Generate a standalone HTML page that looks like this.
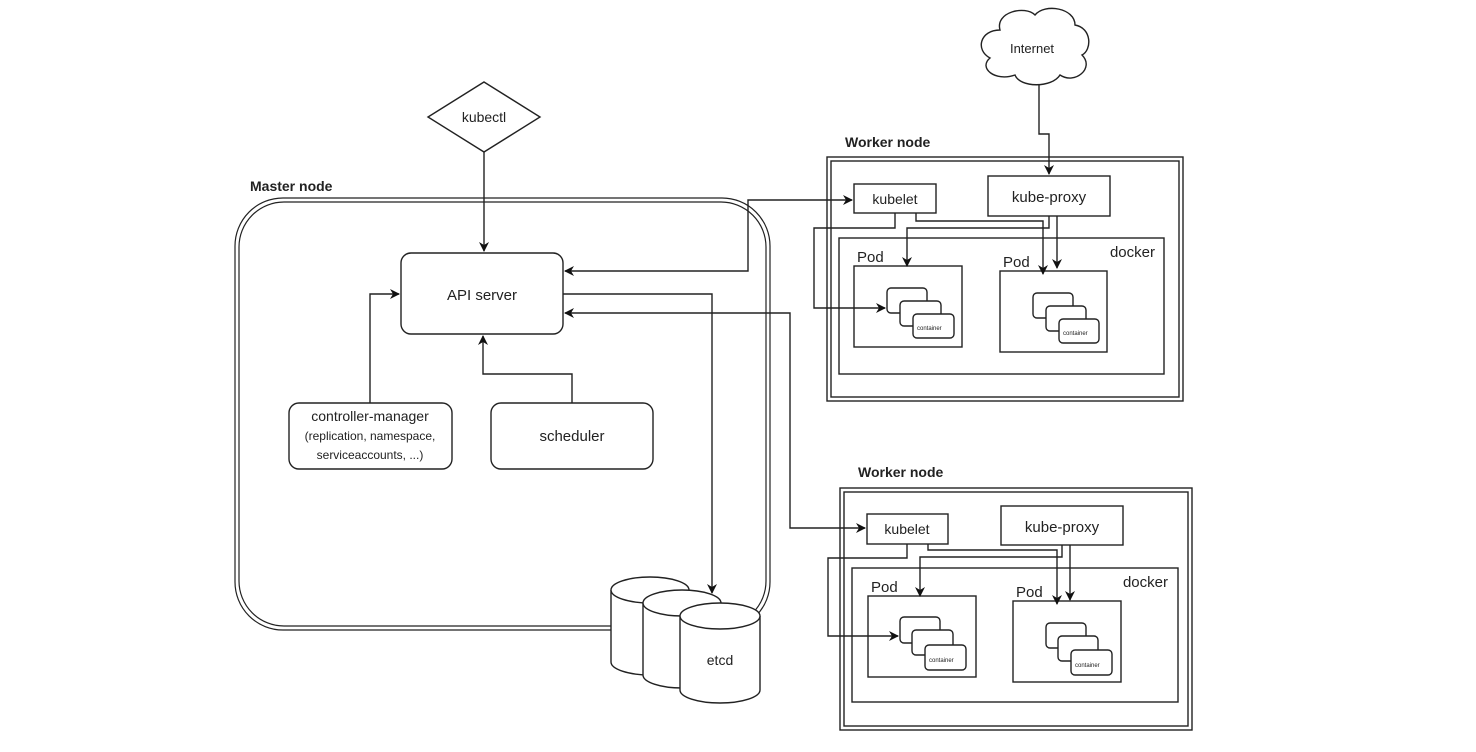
<!DOCTYPE html>
<html><head><meta charset="utf-8"><style>
html,body{margin:0;padding:0;background:#fff;}
svg{display:block;}
text{font-family:"Liberation Sans",sans-serif;fill:#222;}
</style></head><body>
<svg width="1476" height="752" viewBox="0 0 1476 752" xmlns="http://www.w3.org/2000/svg">
<defs>
<marker id="a" markerWidth="10" markerHeight="10" refX="9" refY="5" orient="auto-start-reverse" markerUnits="userSpaceOnUse">
<path d="M0,0 L10,5 L0,10 L3,5 Z" fill="#111"/></marker>
</defs>
<g fill="none" stroke="#222" stroke-width="1.4">
<!-- Master -->
<rect x="235" y="198" width="535" height="432" rx="48" stroke-width="1.2"/>
<rect x="239" y="202" width="527" height="424" rx="45" stroke-width="1.2"/>
<polygon points="484,82 540,117 484,152 428,117" fill="#fff"/>
<rect x="401" y="253" width="162" height="81" rx="10"/>
<rect x="289" y="403" width="163" height="66" rx="10"/>
<rect x="491" y="403" width="162" height="66" rx="10"/>
<path d="M484,152 V251" marker-end="url(#a)"/>
<path d="M370,403 V294 H399" marker-end="url(#a)"/>
<path d="M572,403 V374 H483 V336" marker-end="url(#a)"/>
<path d="M563,294 H712 V593" marker-end="url(#a)"/>
<path d="M852,200 H748 V271 H565" marker-end="url(#a)" marker-start="url(#a)"/>
<path d="M865,528 H790 V313 H565" marker-end="url(#a)" marker-start="url(#a)"/>
<!-- etcd -->
<g fill="#fff">
<path d="M611,590 V662 A39,13 0 0 0 689,662 V590"/><ellipse cx="650" cy="590" rx="39" ry="13"/>
<path d="M643,603 V675 A39,13 0 0 0 721,675 V603"/><ellipse cx="682" cy="603" rx="39" ry="13"/>
<path d="M680,616 V690 A40,13 0 0 0 760,690 V616"/><ellipse cx="720" cy="616" rx="40" ry="13"/>
</g>
<!-- Internet -->
<path d="M1000,30 C995,12 1025,5 1035,15 C1045,3 1075,8 1075,25 C1092,28 1092,50 1082,55 C1095,68 1075,85 1060,75 C1052,88 1020,88 1015,75 C995,82 978,68 990,58 C975,50 980,30 1000,30 Z" fill="#fff"/>
<path d="M1039,84 V134 H1049 V174" marker-end="url(#a)"/>
<!-- Worker 1 -->
<rect x="827" y="157" width="356" height="244"/>
<rect x="831" y="161" width="348" height="236"/>
<rect x="854" y="184" width="82" height="29"/>
<rect x="988" y="176" width="122" height="40"/>
<rect x="839" y="238" width="325" height="136"/>
<rect x="854" y="266" width="108" height="81"/>
<rect x="1000" y="271" width="107" height="81"/>
<g fill="#fff">
<rect x="887" y="288" width="40" height="25" rx="4"/><rect x="900" y="301" width="41" height="25" rx="4"/><rect x="913" y="314" width="41" height="24" rx="4"/>
<rect x="1033" y="293" width="40" height="25" rx="4"/><rect x="1046" y="306" width="40" height="25" rx="4"/><rect x="1059" y="319" width="40" height="24" rx="4"/>
</g>
<path d="M895,213 V228 H814 V308 H885" marker-end="url(#a)"/>
<path d="M916,213 V221 H1043 V274" marker-end="url(#a)"/>
<path d="M1049,216 V228 H907 V266" marker-end="url(#a)"/>
<path d="M1057,216 V268" marker-end="url(#a)"/>
<!-- Worker 2 -->
<rect x="840" y="488" width="352" height="242"/>
<rect x="844" y="492" width="344" height="234"/>
<rect x="867" y="514" width="81" height="30"/>
<rect x="1001" y="506" width="122" height="39"/>
<rect x="852" y="568" width="326" height="134"/>
<rect x="868" y="596" width="108" height="81"/>
<rect x="1013" y="601" width="108" height="81"/>
<g fill="#fff">
<rect x="900" y="617" width="40" height="26" rx="4"/><rect x="912" y="630" width="41" height="25" rx="4"/><rect x="925" y="645" width="41" height="25" rx="4"/>
<rect x="1046" y="623" width="40" height="25" rx="4"/><rect x="1058" y="636" width="40" height="25" rx="4"/><rect x="1071" y="650" width="41" height="25" rx="4"/>
</g>
<path d="M907,544 V558 H828 V636 H898" marker-end="url(#a)"/>
<path d="M928,544 V550 H1057 V604" marker-end="url(#a)"/>
<path d="M1062,545 V557 H920 V596" marker-end="url(#a)"/>
<path d="M1070,545 V600" marker-end="url(#a)"/>
</g>
<g font-size="15">
<text x="250" y="191" font-weight="bold" font-size="14">Master node</text>
<text x="484" y="122" text-anchor="middle" font-size="14">kubectl</text>
<text x="482" y="300" text-anchor="middle">API server</text>
<text x="370" y="421" text-anchor="middle" font-size="14">controller-manager</text>
<text x="370" y="440" text-anchor="middle" font-size="12">(replication, namespace,</text>
<text x="370" y="459" text-anchor="middle" font-size="12">serviceaccounts, ...)</text>
<text x="572" y="441" text-anchor="middle">scheduler</text>
<text x="720" y="665" text-anchor="middle" font-size="14">etcd</text>
<text x="1032" y="53" text-anchor="middle" font-size="13">Internet</text>
<text x="845" y="147" font-weight="bold" font-size="14">Worker node</text>
<text x="895" y="204" text-anchor="middle" font-size="14">kubelet</text>
<text x="1049" y="202" text-anchor="middle">kube-proxy</text>
<text x="1155" y="257" text-anchor="end">docker</text>
<text x="857" y="262">Pod</text>
<text x="1003" y="267">Pod</text>
<text x="858" y="477" font-weight="bold" font-size="14">Worker node</text>
<text x="907" y="534" text-anchor="middle" font-size="14">kubelet</text>
<text x="1062" y="532" text-anchor="middle">kube-proxy</text>
<text x="1168" y="587" text-anchor="end">docker</text>
<text x="871" y="592">Pod</text>
<text x="1016" y="597">Pod</text>
</g>
<g font-size="6" fill="#444">
<text x="917" y="330">container</text><text x="1063" y="335">container</text>
<text x="929" y="662">container</text><text x="1075" y="667">container</text>
</g>
</svg>
</body></html>
